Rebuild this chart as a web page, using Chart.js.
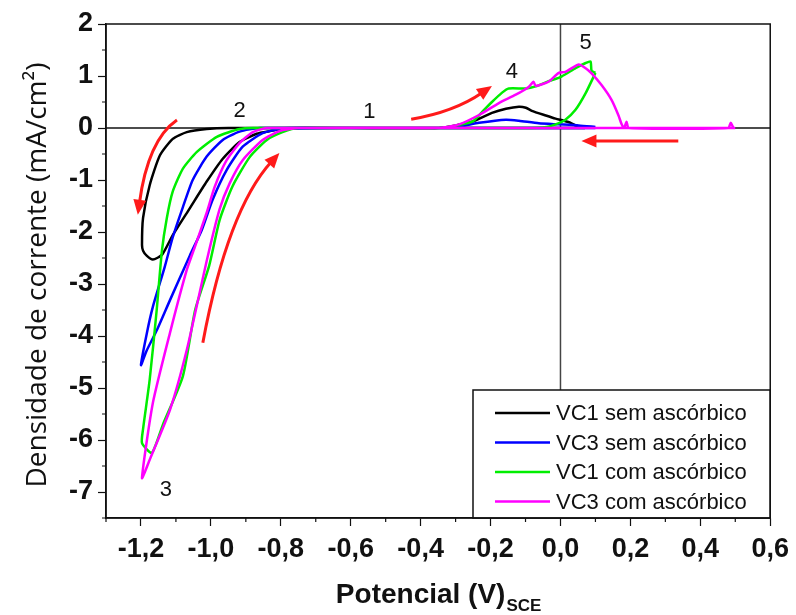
<!DOCTYPE html>
<html>
<head>
<meta charset="utf-8">
<script src="https://cdn.jsdelivr.net/npm/chart.js@4.4.1/dist/chart.umd.min.js"></script>
<style>
  html, body { margin: 0; padding: 0; background: #fff; }
  #cv { display: block; }
</style>
</head>
<body>
<canvas id="cv" width="796" height="615"></canvas>
<script>
// potencial (V) e densidade de corrente (mA/cm2)
const potVC1sem = [0.07, -0.3, -0.7, -0.95, -1.012, -1.069, -1.109, -1.146, -1.175, -1.194, -1.197, -1.194, -1.183, -1.166, -1.14, -1.109, -1.06, -1.012, -0.966, -0.918, -0.869, -0.823, -0.79, -0.6, -0.347, -0.253, -0.196, -0.156, -0.119, -0.099, -0.082, -0.042, -0.014, 0.009, 0.029, 0.043, 0.07];
const densVC1sem = [0, 0, 0, 0, -0.02, -0.08, -0.21, -0.53, -1.1, -1.73, -2.25, -2.36, -2.46, -2.53, -2.44, -2.06, -1.54, -1.03, -0.59, -0.27, -0.11, -0.05, 0, 0, 0, 0.12, 0.29, 0.37, 0.41, 0.39, 0.33, 0.24, 0.18, 0.14, 0.1, 0.05, 0];

const potVC3sem = [0.1, -0.4, -0.86, -0.918, -0.966, -1.012, -1.052, -1.08, -1.109, -1.132, -1.166, -1.183, -1.2, -1.183, -1.154, -1.117, -1.06, -1.026, -0.995, -0.955, -0.909, -0.852, -0.8, -0.6, -0.35, -0.29, -0.233, -0.156, -0.119, -0.062, -0.005, 0.052, 0.1];
const densVC3sem = [0, 0, 0, -0.07, -0.23, -0.55, -1.0, -1.52, -2.1, -2.67, -3.44, -3.94, -4.56, -4.27, -3.88, -3.31, -2.45, -1.96, -1.38, -0.81, -0.36, -0.1, -0.02, 0, 0, 0.03, 0.1, 0.16, 0.14, 0.09, 0.07, 0.05, 0.02];

const potVC1com = [0.1, 0.072, 0.043, 0.014, -0.014, -0.04, -0.1, -0.5, -0.88, -0.918, -0.983, -1.04, -1.08, -1.109, -1.126, -1.14, -1.155, -1.175, -1.194, -1.197, -1.169, -1.137, -1.08, -1.045, -1.005, -0.975, -0.938, -0.889, -0.84, -0.795, -0.75, -0.35, -0.253, -0.224, -0.196, -0.167, -0.148, -0.099, -0.071, -0.034, 0.003, 0.043, 0.072, 0.086, 0.089, 0.1];
const densVC1com = [1.06, 0.67, 0.35, 0.16, 0.07, 0.02, 0, 0, 0, -0.02, -0.17, -0.46, -0.78, -1.22, -1.73, -2.36, -3.5, -4.84, -5.79, -6.06, -6.25, -5.7, -4.77, -3.5, -2.65, -1.77, -1.12, -0.56, -0.23, -0.08, 0, 0, 0.12, 0.31, 0.5, 0.68, 0.76, 0.76, 0.8, 0.9, 0.99, 1.15, 1.25, 1.28, 1.1, 1.06];

const potVC3com = [0.5, -0.2, -0.84, -0.88, -0.918, -0.955, -0.989, -1.012, -1.046, -1.069, -1.117, -1.166, -1.197, -1.175, -1.117, -1.069, -1.01, -0.975, -0.946, -0.909, -0.852, -0.8, -0.75, -0.35, -0.29, -0.233, -0.176, -0.128, -0.091, -0.077, -0.071, -0.034, -0.005, 0.014, 0.032, 0.052, 0.072, 0.089, 0.118, 0.146, 0.166, 0.175, 0.182, 0.189, 0.195, 0.48, 0.487, 0.495, 0.5];
const densVC3com = [0, 0, 0, -0.08, -0.29, -0.62, -1.13, -1.63, -2.29, -2.73, -3.94, -5.29, -6.73, -6.38, -5.42, -4.27, -2.5, -1.56, -1.06, -0.62, -0.23, -0.05, 0, 0, 0.07, 0.25, 0.48, 0.64, 0.79, 0.89, 0.81, 0.89, 1.06, 1.08, 1.15, 1.22, 1.15, 1.05, 0.82, 0.54, 0.24, 0.07, 0, 0.12, 0, 0, 0.1, 0, 0];

const seriesLabels = ['VC1 sem ascórbico', 'VC3 sem ascórbico', 'VC1 com ascórbico', 'VC3 com ascórbico'];
const seriesColors = ['#000000', '#0000ff', '#00ee00', '#ff00ff'];

const xTickValues = [-1.2, -1.0, -0.8, -0.6, -0.4, -0.2, 0, 0.2, 0.4, 0.6];
const xTickLabels = ['-1,2', '-1,0', '-0,8', '-0,6', '-0,4', '-0,2', '0,0', '0,2', '0,4', '0,6'];
const yTickValues = [-7, -6, -5, -4, -3, -2, -1, 0, 1, 2];
const yTickLabels = ['-7', '-6', '-5', '-4', '-3', '-2', '-1', '0', '1', '2'];

// rótulos numerados e setas de varredura (em coordenadas do gráfico)
const marcas = [
  { t: '1', x: -0.547, y: 0.3 },
  { t: '2', x: -0.918, y: 0.33 },
  { t: '3', x: -1.129, y: -6.96 },
  { t: '4', x: -0.139, y: 1.08 },
  { t: '5', x: 0.072, y: 1.63 }
];
const setas = [
  [[-1.097, 0.154], [-1.18, -0.23], [-1.209, -1.67]],
  [[-1.023, -4.13], [-0.952, -1.58], [-0.804, -0.48]],
  [[-0.427, 0.17], [-0.304, 0.31], [-0.196, 0.81]],
  [[0.337, -0.25], [0.2, -0.25], [0.06, -0.25]]
];

function pares(xs, ys) {
  return xs.map((x, i) => ({ x: x, y: ys[i] }));
}

const decor = {
  id: 'decor',
  beforeDatasetsDraw(chart) {
    const c = chart.ctx, a = chart.chartArea;
    const sx = chart.scales.x, sy = chart.scales.y;
    c.save();
    c.lineWidth = 1.5;
    c.strokeStyle = '#111';
    const y0 = sy.getPixelForValue(0);
    c.beginPath(); c.moveTo(a.left, y0); c.lineTo(a.right, y0); c.stroke();
    c.strokeStyle = '#444';
    const x0 = sx.getPixelForValue(0);
    c.beginPath(); c.moveTo(x0, a.top); c.lineTo(x0, a.bottom); c.stroke();
    c.restore();
  },
  afterDatasetsDraw(chart) {
    const c = chart.ctx, a = chart.chartArea;
    const sx = chart.scales.x, sy = chart.scales.y;
    const px = v => sx.getPixelForValue(v), py = v => sy.getPixelForValue(v);
    c.save();

    // setas vermelhas
    c.strokeStyle = '#ff1a1a';
    c.fillStyle = '#ff1a1a';
    c.lineWidth = 3;
    setas.forEach(s => {
      const p0 = [px(s[0][0]), py(s[0][1])];
      const p1 = [px(s[1][0]), py(s[1][1])];
      const p2 = [px(s[2][0]), py(s[2][1])];
      const ang = Math.atan2(p2[1] - p1[1], p2[0] - p1[0]);
      const hl = 15, hw = 6.5;
      const end = [p2[0] - Math.cos(ang) * hl * 0.8, p2[1] - Math.sin(ang) * hl * 0.8];
      c.beginPath();
      c.moveTo(p0[0], p0[1]);
      c.quadraticCurveTo(p1[0], p1[1], end[0], end[1]);
      c.stroke();
      c.beginPath();
      c.moveTo(p2[0], p2[1]);
      c.lineTo(p2[0] - Math.cos(ang) * hl + Math.sin(ang) * hw, p2[1] - Math.sin(ang) * hl - Math.cos(ang) * hw);
      c.lineTo(p2[0] - Math.cos(ang) * hl - Math.sin(ang) * hw, p2[1] - Math.sin(ang) * hl + Math.cos(ang) * hw);
      c.closePath();
      c.fill();
    });

    // números
    c.fillStyle = '#111';
    c.font = '22px "Liberation Sans", Arial, sans-serif';
    c.textAlign = 'center';
    c.textBaseline = 'middle';
    marcas.forEach(m => c.fillText(m.t, px(m.x), py(m.y)));

    // legenda
    const lx = 473, ly = 390;
    c.fillStyle = '#fff';
    c.fillRect(lx, ly, a.right - lx, a.bottom - ly);
    c.strokeStyle = '#111';
    c.lineWidth = 1.5;
    c.strokeRect(lx, ly, a.right - lx, a.bottom - ly);
    c.font = '22px "Liberation Sans", Arial, sans-serif';
    c.textAlign = 'left';
    chart.data.datasets.forEach((d, i) => {
      const yy = ly + 23 + i * 29.5;
      c.strokeStyle = d.borderColor;
      c.lineWidth = 2.5;
      c.beginPath(); c.moveTo(495, yy); c.lineTo(550, yy); c.stroke();
      c.fillStyle = '#111';
      c.fillText(d.label, 556, yy + 1);
    });

    // moldura
    c.strokeStyle = '#111';
    c.lineWidth = 1.5;
    c.strokeRect(a.left, a.top, a.right - a.left, a.bottom - a.top);

    // marcas menores
    c.lineWidth = 1.2;
    c.beginPath();
    for (let k = -13; k <= 5; k += 2) {
      const x = px(k / 10);
      c.moveTo(x, a.bottom); c.lineTo(x, a.bottom + 4);
    }
    for (let k = -15; k <= 3; k += 2) {
      const y = py(k / 2);
      c.moveTo(a.left, y); c.lineTo(a.left - 4, y);
    }
    c.stroke();

    // títulos dos eixos
    c.fillStyle = '#111';
    c.textBaseline = 'alphabetic';
    c.font = 'bold 28px "Liberation Sans", Arial, sans-serif';
    const t1 = 'Potencial (V)';
    const w1 = c.measureText(t1).width;
    c.font = 'bold 17px "Liberation Sans", Arial, sans-serif';
    const w2 = c.measureText('SCE').width;
    const tx = (a.left + a.right) / 2 - (w1 + w2) / 2;
    c.font = 'bold 28px "Liberation Sans", Arial, sans-serif';
    c.fillText(t1, tx, 603);
    c.font = 'bold 17px "Liberation Sans", Arial, sans-serif';
    c.fillText('SCE', tx + w1 + 1, 611);

    c.translate(38, 275);
    c.rotate(-Math.PI / 2);
    c.font = '28px "Open Sans", sans-serif';
    c.textAlign = 'center';
    c.textBaseline = 'middle';
    c.fillText('Densidade de corrente (mA/cm²)', 0, 0);
    c.restore();
  }
};

const tickFont = { family: '"Liberation Sans", Arial, sans-serif', size: 27, weight: 'bold' };

new Chart(document.getElementById('cv'), {
  type: 'scatter',
  data: {
    datasets: [
      { label: seriesLabels[0], data: pares(potVC1sem, densVC1sem), borderColor: seriesColors[0], order: 3 },
      { label: seriesLabels[1], data: pares(potVC3sem, densVC3sem), borderColor: seriesColors[1], order: 2 },
      { label: seriesLabels[2], data: pares(potVC1com, densVC1com), borderColor: seriesColors[2], order: 1 },
      { label: seriesLabels[3], data: pares(potVC3com, densVC3com), borderColor: seriesColors[3], order: 0 }
    ].map(d => Object.assign(d, { showLine: true, pointRadius: 0, borderWidth: 2.5, tension: 0.2, fill: false }))
  },
  options: {
    responsive: false,
    animation: false,
    events: [],
    layout: { padding: { top: 24, right: 24, left: 0, bottom: 0 } },
    plugins: { legend: { display: false }, tooltip: { enabled: false } },
    scales: {
      x: {
        type: 'linear', min: -1.3, max: 0.6,
        afterBuildTicks: s => { s.ticks = xTickValues.map(v => ({ value: v })); },
        afterFit: s => { s.height = 97; },
        ticks: { font: tickFont, color: '#111', padding: 7, maxRotation: 0,
          callback: (v, i) => xTickLabels[i] },
        grid: { drawOnChartArea: false, tickLength: 8, tickColor: '#111', tickWidth: 1.2 },
        border: { color: '#111', width: 1.5 }
      },
      y: {
        type: 'linear', min: -7.5, max: 2,
        afterBuildTicks: s => { s.ticks = yTickValues.map(v => ({ value: v })); },
        afterFit: s => { s.width = 106; },
        ticks: { font: tickFont, color: '#111', padding: 5,
          callback: (v, i) => yTickLabels[i] },
        grid: { drawOnChartArea: false, tickLength: 8, tickColor: '#111', tickWidth: 1.2 },
        border: { color: '#111', width: 1.5 }
      }
    }
  },
  plugins: [decor]
});
</script>
</body>
</html>
